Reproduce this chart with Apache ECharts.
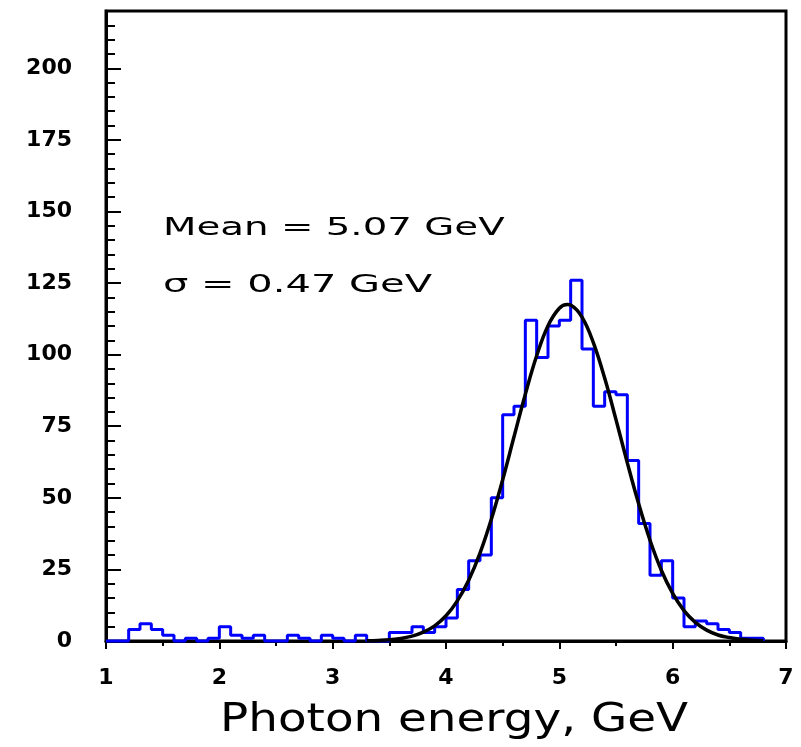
<!DOCTYPE html>
<html>
<head>
<meta charset="utf-8">
<script src="https://cdn.jsdelivr.net/npm/echarts@6/dist/echarts.min.js"></script>
<style>
html,body{margin:0;padding:0;background:#fff;}
#chart{width:801px;height:747px;}
</style>
</head>
<body>
<div id="chart"></div>
<script>
// Histogram: lower bin edges (GeV) and counts per 0.1 GeV bin
const binEdges = [1.0,1.1,1.2,1.3,1.4,1.5,1.6,1.7,1.8,1.9,
                  2.0,2.1,2.2,2.3,2.4,2.5,2.6,2.7,2.8,2.9,
                  3.0,3.1,3.2,3.3,3.4,3.5,3.6,3.7,3.8,3.9,
                  4.0,4.1,4.2,4.3,4.4,4.5,4.6,4.7,4.8,4.9,
                  5.0,5.1,5.2,5.3,5.4,5.5,5.6,5.7,5.8,5.9,
                  6.0,6.1,6.2,6.3,6.4,6.5,6.6,6.7];
const histEnd = 6.8;
const counts = [0,0,4,6,4,2,0,1,0,1,
                5,2,1,2,0,0,2,1,0,2,
                1,0,2,0,0,3,3,5,3,5,
                8,18,28,30,50,79,82,112,99,110,
                112,126,102,82,87,86,63,41,23,28,
                15,5,7,6,4,3,1,1];

// Fit curve
const fitX = [3.3,3.4,3.5,3.6,3.7,3.8,3.9,4.0,4.1,4.2,4.3,4.4,4.5,4.6,4.7,4.8,4.9,5.0,5.07,5.1,
              5.2,5.3,5.4,5.5,5.6,5.7,5.8,5.9,6.0,6.1,6.2,6.3,6.4,6.5,6.6,6.7,6.8];
const fitY = [0.1,0.2,0.4,0.9,1.7,3.1,5.3,8.8,14.0,21.2,30.7,42.5,56.3,71.3,86.2,99.6,110.1,116.2,117.5,117.3,
              113.1,104.2,91.8,77.3,62.2,47.9,35.2,24.7,16.6,10.6,6.5,3.8,2.1,1.2,0.6,0.3,0.1];

// Axis ticks
const xTicks = {min: 1, max: 7, interval: 1};
const yTicks = {min: 0, max: 220, interval: 25, minorInterval: 5};

const annotLines = ['Mean = 5.07 GeV', '\u03c3 = 0.47 GeV'];
const xTitle = 'Photon energy, GeV';

const histData = binEdges.map((e, i) => [e, counts[i]]);
histData.push([histEnd, 0]);
const fitData = fitX.map((x, i) => [x, fitY[i]]);

const FONT = '"DejaVu Sans", "Noto Sans", sans-serif';
const chart = echarts.init(document.getElementById('chart'), null, {renderer: 'canvas'});
chart.setOption({
  animation: false,
  backgroundColor: '#fff',
  grid: {left: 106, right: 15, top: 11, bottom: 106, show: true, borderColor: '#000', borderWidth: 3, backgroundColor: 'transparent'},
  xAxis: {
    type: 'value', min: xTicks.min, max: xTicks.max, interval: xTicks.interval,
    axisLine: {show: true, onZero: false, lineStyle: {color: '#000', width: 3}},
    axisTick: {show: true, inside: false, length: 8, lineStyle: {color: '#000', width: 2}},
    minorTick: {show: true, splitNumber: 2, length: 5, lineStyle: {color: '#000', width: 2}},
    axisLabel: {color: '#000', fontSize: 22, fontWeight: 'bold', fontFamily: FONT, margin: 26},
    splitLine: {show: false}
  },
  yAxis: [{
    type: 'value', min: yTicks.min, max: yTicks.max, interval: yTicks.interval,
    axisLine: {show: true, lineStyle: {color: '#000', width: 3}},
    axisTick: {show: true, inside: true, length: 15, lineStyle: {color: '#000', width: 2}},
    axisLabel: {color: '#000', fontSize: 22, fontWeight: 'bold', fontFamily: FONT, margin: 34, showMaxLabel: false},
    splitLine: {show: false}
  }, {
    type: 'value', position: 'left', min: yTicks.min, max: yTicks.max, interval: yTicks.minorInterval,
    axisLine: {show: false},
    axisTick: {show: true, inside: true, length: 9, lineStyle: {color: '#000', width: 2}},
    axisLabel: {show: false},
    splitLine: {show: false}
  }],
  series: [{
    type: 'line', name: 'Data', data: histData, step: 'end', showSymbol: false, symbol: 'none',
    clip: false, lineStyle: {color: '#0000ff', width: 3}, z: 2
  }, {
    type: 'line', name: 'Fit', data: fitData, smooth: 0.4, showSymbol: false, symbol: 'none',
    clip: false, lineStyle: {color: '#000', width: 3.5}, z: 3
  }],
  graphic: [
    {type: 'text', x: 163, y: 228, scaleX: 1.55, style: {text: annotLines[0], fontSize: 25, fontFamily: FONT, fill: '#000', verticalAlign: 'middle'}},
    {type: 'text', x: 163, y: 285, scaleX: 1.6, style: {text: annotLines[1], fontSize: 25, fontFamily: FONT, fill: '#000', verticalAlign: 'middle'}},
    {type: 'text', x: 454, y: 721, scaleX: 1.2, style: {text: xTitle, fontSize: 39, fontFamily: FONT, fill: '#000', align: 'center', verticalAlign: 'middle'}}
  ]
});
</script>
</body>
</html>
